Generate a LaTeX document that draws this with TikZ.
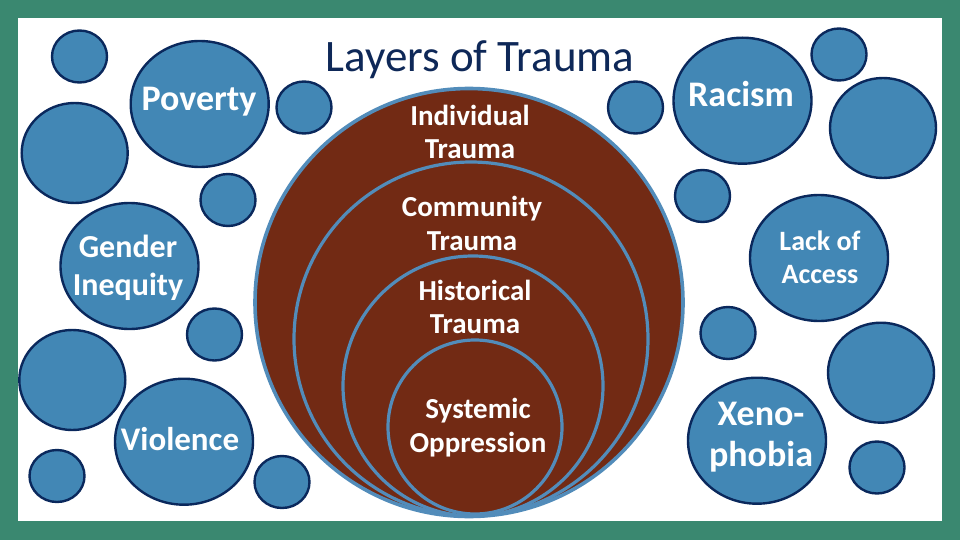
\documentclass[tikz,border=0pt]{standalone}
\usepackage{fontspec}
\setmainfont{Carlito}
\usetikzlibrary{shapes.geometric}
\definecolor{framegreen}{RGB}{58,136,112}
\definecolor{bubblefill}{RGB}{66,135,181}
\definecolor{bubbleline}{RGB}{10,40,92}
\definecolor{traumabrown}{RGB}{114,42,20}
\definecolor{ringblue}{RGB}{82,140,186}
\definecolor{titlenavy}{RGB}{14,40,88}
\tikzset{
  bubble/.style={ellipse, draw=bubbleline, fill=bubblefill, line width=2.4pt, inner sep=0pt},
  minorbubble/.style={bubble, minimum width=55pt, minimum height=52pt},
  majorbubble/.style={bubble, minimum width=106pt, minimum height=100pt},
  namedbubble/.style={bubble, minimum width=138pt, minimum height=126pt},
  ring/.style={circle, draw=ringblue, fill=traumabrown, line width=3.2pt, inner sep=0pt},
  bubbletext/.style={text=white, align=center, inner sep=0pt},
  ringtext/.style={text=white, align=center, inner sep=0pt, font=\fontsize{29}{33.5}\selectfont\bfseries}
}
\begin{document}
\begin{tikzpicture}[x=1pt,y=-1pt]
\useasboundingbox (0,0) rectangle (960,540);
\fill[framegreen] (0,0) rectangle (960,540);
\fill[white] (18,18) rectangle (942,521);

% nested trauma rings
\node[ring, line width=3.6pt, minimum size=428pt] (ringA) at (469,302.5) {};
\node[ring, minimum size=354pt] (ringB) at (471,339) {};
\node[ring, minimum size=260pt] (ringC) at (473,386) {};
\node[ring, minimum size=174pt] (ringD) at (475,427) {};

\node[ringtext] (tIndividual) at (470,132) {Individual\\Trauma};
\node[ringtext] (tCommunity) at (472,223.5) {Community\\Trauma};
\node[ringtext] (tHistorical) at (475,307) {Historical\\Trauma};
\node[ringtext] (tSystemic) at (478,427.5) {Systemic\\Oppression};

% title
\node[text=titlenavy, font=\fontsize{45}{54}\selectfont, anchor=base, inner sep=0pt] (title) at (480,72) {Layers of Trauma};

% small bubbles
\node[minorbubble] (s1) at (79.5,56.5) {};
\node[minorbubble] (s2) at (304,107.5) {};
\node[minorbubble] (s3) at (228,200) {};
\node[minorbubble] (s4) at (214.5,334.5) {};
\node[minorbubble] (s5) at (57,476) {};
\node[minorbubble] (s6) at (282,482) {};
\node[minorbubble] (s7) at (635.5,107.5) {};
\node[minorbubble] (s8) at (839,54.5) {};
\node[minorbubble] (s9) at (702.5,196) {};
\node[minorbubble] (s10) at (728,333) {};
\node[minorbubble] (s11) at (877,467.5) {};

% medium bubbles
\node[majorbubble] (m1) at (74.7,153) {};
\node[majorbubble] (m2) at (72.3,380) {};
\node[majorbubble] (m3) at (883,128) {};
\node[majorbubble] (m4) at (881,372.7) {};

% labelled bubbles
\node[namedbubble] (poverty) at (199.7,104) {};
\node[namedbubble] (gender) at (129.5,266) {};
\node[namedbubble] (violence) at (184,441.7) {};
\node[namedbubble] (racism) at (742.5,100.7) {};
\node[namedbubble] (access) at (819,258) {};
\node[namedbubble] (xeno) at (757,440.7) {};

\node[bubbletext, font=\fontsize{36}{42}\selectfont\bfseries, anchor=base] (tPoverty) at (199,111) {Poverty};
\node[bubbletext, font=\fontsize{32}{38}\selectfont\bfseries] (tGender) at (128,268) {Gender\\Inequity};
\node[bubbletext, font=\fontsize{33}{40}\selectfont\bfseries, anchor=base] (tViolence) at (180,450) {Violence};
\node[bubbletext, font=\fontsize{36}{42}\selectfont\bfseries, anchor=base] (tRacism) at (741,107) {Racism};
\node[bubbletext, font=\fontsize{28}{33}\selectfont\bfseries] (tAccess) at (820,257) {Lack of\\Access};
\node[bubbletext, font=\fontsize{36}{41}\selectfont\bfseries] (tXeno) at (761,437.5) {Xeno-\\phobia};
\end{tikzpicture}
\end{document}
